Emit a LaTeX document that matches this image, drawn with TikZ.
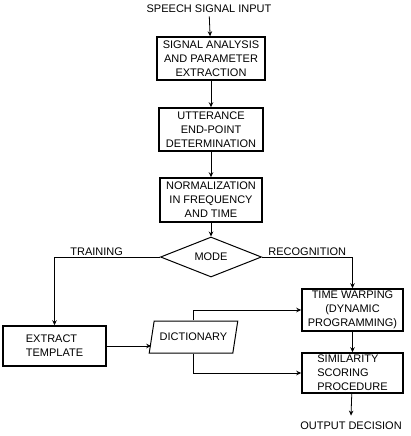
\documentclass[tikz,border=0pt]{standalone}
\usepackage{fontspec}
\setmainfont{Liberation Sans}
\usetikzlibrary{arrows.meta}
\usetikzlibrary{shapes.geometric}
\tikzset{
  box/.style={draw, line width=1.5pt, inner sep=2pt, align=center, minimum width=102pt, minimum height=42pt},
  arr/.style={-{Stealth[length=5pt, width=4.5pt]}, line width=0.8pt},
  tag/.style={above, inner sep=1pt},
}
\begin{document}
\begin{tikzpicture}[x=1pt, y=-1pt, font=\fontsize{11}{14}\selectfont]
      \useasboundingbox (0,0) rectangle (411,436);
      \node (input) at (209,9) {SPEECH SIGNAL INPUT};
      \node[box, minimum width=108pt, minimum height=43pt] (analysis) at (211,58.5) {SIGNAL ANALYSIS\\AND PARAMETER\\EXTRACTION};
      \node[box, minimum width=104pt, minimum height=43pt] (endpoint) at (211,129.5) {UTTERANCE\\END-POINT\\DETERMINATION};
      \node[box, minimum height=44pt] (norm) at (211,200) {NORMALIZATION\\IN FREQUENCY\\AND TIME};
      \node[draw, diamond, line width=1pt, aspect=2.5, minimum width=101pt, minimum height=40pt, inner sep=0pt] (mode) at (211,257) {MODE};
      \node[box, minimum width=103pt, minimum height=40pt, align=left] (extract) at (54.5,346) {EXTRACT\\TEMPLATE};
      \node[draw, trapezium, trapezium left angle=66, trapezium right angle=114, trapezium stretches=true, minimum width=89pt, minimum height=32pt, line width=1pt, inner sep=1pt] (dict) at (193.5,337) {DICTIONARY};
      \node[box, minimum width=101pt, minimum height=40pt] (warp) at (352.5,310) {TIME WARPING\\(DYNAMIC\\PROGRAMMING)};
      \node[box, minimum width=101pt, minimum height=40pt, align=left] (sim) at (352.5,373) {SIMILARITY\\SCORING\\PROCEDURE};
      \node (output) at (351,426) {OUTPUT DECISION};

      \draw[arr] (input) -- (analysis);
      \draw[arr] (analysis) -- (endpoint);
      \draw[arr] (endpoint) -- (norm);
      \draw[arr] (norm) -- (mode);
      \draw[arr] (mode.west) -| node[tag, pos=0.3] {TRAINING} (extract.north);
      \draw[arr] (mode.east) -| node[tag, pos=0.25] {RECOGNITION} (warp.north);
      \draw[arr] (extract.east) -- (extract.east -| dict.west);
      \draw[arr] (dict.north) |- (warp.west);
      \draw[arr] (dict.south) |- (sim.west);
      \draw[arr] (warp) -- (sim);
      \draw[arr] (sim) -- ([yshift=3pt]output.north);
\end{tikzpicture}
\end{document}
